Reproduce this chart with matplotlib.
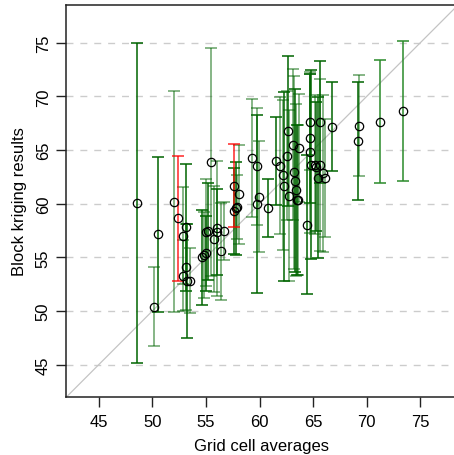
import matplotlib
matplotlib.use("Agg")
import matplotlib.pyplot as plt
import numpy as np

# grid cell averages (x) and block kriging estimates (y)
grid_avg = [48.60, 50.19, 50.56, 52.02, 52.42, 52.89, 53.14, 53.14, 52.89, 53.20,
            53.51, 54.66, 54.81, 54.97, 54.97, 55.16, 55.47, 55.75, 56.06, 56.02,
            56.40, 56.65, 57.64, 57.80, 57.64, 58.07, 57.86, 59.32, 59.72, 59.75,
            59.91, 60.75, 61.55, 61.89, 62.20, 62.30, 62.52, 62.67, 62.76, 63.14,
            63.20, 63.29, 63.39, 63.45, 63.66, 63.60, 64.41, 64.69, 64.69, 64.69,
            64.75, 65.19, 65.62, 65.62, 65.25, 65.47, 65.87, 66.09, 66.77, 69.13,
            69.29, 71.21, 73.39]
kriged = [60.09, 50.40, 57.14, 60.19, 58.63, 57.02, 57.80, 54.13, 53.29, 52.83,
          52.83, 55.00, 55.22, 55.37, 57.33, 57.42, 63.85, 56.71, 57.70, 57.33,
          55.56, 57.42, 61.68, 59.56, 59.29, 60.87, 59.66, 64.22, 63.48, 60.00,
          60.65, 59.60, 63.98, 63.54, 62.67, 61.62, 64.47, 66.74, 60.75, 65.50,
          62.92, 62.14, 61.30, 60.37, 65.19, 60.34, 58.04, 67.61, 66.09, 64.78,
          63.63, 63.63, 67.61, 63.63, 63.45, 62.39, 62.83, 62.39, 67.17, 65.84,
          67.27, 67.64, 68.63]
# half width of the interval
half_width = [14.9, 3.7, 7.2, 10.3, 5.85, 4.5, 5.9, 4.0, 3.3, 5.3,
              3.0, 4.45, 4.0, 3.5, 5.0, 4.5, 10.6, 4.9, 6.3, 4.0,
              4.5, 2.7, 3.9, 4.3, 4.0, 4.6, 3.0, 5.5, 5.46, 8.3,
              5.2, 2.7, 4.1, 6.4, 7.0, 8.8, 6.0, 7.0, 8.0, 7.0,
              9.0, 8.5, 8.0, 7.0, 5.0, 7.0, 6.5, 4.5, 6.0, 7.5,
              8.8, 6.5, 5.7, 8.0, 6.0, 7.5, 7.3, 5.5, 4.15, 5.5,
              4.7, 5.73, 6.55]
# colour group of each bar: 0 dark green, 1 pale green, 2 red, 3 mid green
group = [0, 1, 0, 1, 2, 1, 0, 1, 1, 0,
         1, 0, 1, 0, 1, 0, 1, 1, 1, 0,
         1, 1, 2, 0, 0, 1, 1, 1, 1, 0,
         1, 0, 0, 1, 1, 0, 1, 0, 1, 1,
         1, 0, 1, 0, 1, 1, 0, 1, 0, 1,
         0, 1, 0, 1, 0, 0, 1, 1, 0, 0,
         1, 3, 3]

x_ticks = [45, 50, 55, 60, 65, 70, 75]
y_ticks = [45, 50, 55, 60, 65, 70, 75]

plt.rcParams['font.family'] = ['Liberation Sans', 'DejaVu Sans']

fig = plt.figure(figsize=(4.54, 4.56), dpi=100)
# axes box is square, right side runs past the picture edge
ax = fig.add_axes([66 / 454, 58 / 456, 392 / 454, 392 / 456])

x = np.array(grid_avg)
y = np.array(kriged)
hw = np.array(half_width)
g = np.array(group)

# dashed horizontal reference lines
for t in y_ticks:
    ax.axhline(t, color='#cccccc', lw=1, ls=(0, (5, 5)), zorder=0)

# 1:1 line
ax.plot([40, 80], [40, 80], color='#c4c4c4', lw=0.9, zorder=1)

styles = {
    1: dict(color='darkgreen', alpha=0.6),
    0: dict(color='darkgreen', alpha=1.0),
    3: dict(color='#2a8a2a', alpha=1.0),
    2: dict(color='red', alpha=0.85),
}
for k in [1, 0, 3, 2]:
    m = g == k
    ax.errorbar(x[m], y[m], yerr=hw[m], fmt='none', ecolor=styles[k]['color'],
                alpha=styles[k]['alpha'], elinewidth=1.1, capsize=4.3,
                capthick=1.1, zorder=2)

ax.plot(x, y, 'o', mfc='none', mec='black', ms=6, mew=0.9, zorder=3)

ax.set_xlim(41.95, 78.5)
ax.set_ylim(41.99, 78.5)
ax.set_xticks(x_ticks)
ax.set_yticks(y_ticks)
ax.set_yticklabels([str(t) for t in y_ticks], rotation=90, va='center')
ax.tick_params(direction='out', length=7, width=1, labelsize=12, color='#222222')
ax.tick_params(axis='x', pad=5)
ax.tick_params(axis='y', pad=4)
for s in ax.spines.values():
    s.set_linewidth(1.1)
    s.set_color('#222222')

ax.set_xlabel('Grid cell averages', fontsize=12, labelpad=6.5)
ax.set_ylabel('Block kriging results', fontsize=12, labelpad=6.5)

fig.savefig('out.png', dpi=100)
